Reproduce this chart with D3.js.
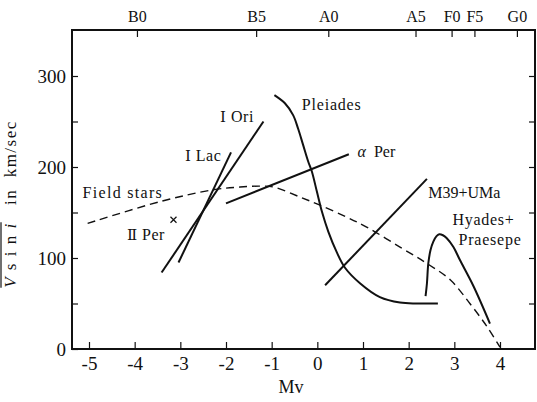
<!DOCTYPE html>
<html>
<head>
<meta charset="utf-8">
<script src="https://cdn.jsdelivr.net/npm/d3@7"></script>
<style>
  @font-face { font-family: "ChartSerif"; src: local("Liberation Serif"), local("LiberationSerif"); }
  @font-face { font-family: "ChartSerif"; font-style: italic; src: local("Liberation Serif Italic"), local("LiberationSerif-Italic"); }
  body { margin: 0; background: #fff; }
</style>
</head>
<body>
<svg id="chart" width="537" height="402" style="font-family:'Liberation Serif'">
  <text id="xlabel" x="291" y="393" text-anchor="middle" style="font-family:'Liberation Serif'; font-size:18px" fill="#111">Mv</text>
</svg>
<script>
// Mv ticks and spectral types on the top axis
const mvTicks = [-5, -4, -3, -2, -1, 0, 1, 2, 3, 4];
const vTicks = [0, 50, 100, 150, 200, 250, 300];
const vLabels = [0, 100, 200, 300];
const spType = ["B0", "B5", "A0", "A5", "F0", "F5", "G0"];
const spMv = [-3.95, -1.34, 0.24, 2.15, 2.94, 3.44, 4.37];

// field stars (dashed)
const fieldMv = [-5.03, -3.44, -2.28, -1.69, -1.25, -0.96, -0.38, 0.06, 0.64, 1.08, 1.81, 2.40, 2.91, 3.34, 3.71, 4.0];
const fieldV = [138, 162, 175, 178, 179, 178, 167, 158, 145, 134, 112, 94, 76, 50, 25, 2];

// Pleiades
const pleiadesMv = [-0.94, -0.71, -0.53, -0.42, -0.31, -0.20, -0.12, -0.01, 0.10, 0.24, 0.42, 0.61, 0.94, 1.37, 1.81, 2.18, 2.64];
const pleiadesV = [279, 270, 257, 242, 224, 206, 195, 173, 151, 129, 107, 89, 72, 57, 51, 50, 50];

// Hyades + Praesepe
const hyadesMv = [2.37, 2.40, 2.43, 2.48, 2.54, 2.61, 2.67, 2.75, 2.83, 2.98, 3.12, 3.42, 3.78];
const hyadesV = [58, 72, 94, 109, 118, 124, 126, 125, 122, 112, 98, 69, 28];

// straight segments
const oriMv = [-3.41, -1.18], oriV = [84, 250];
const lacMv = [-3.04, -1.89], lacV = [95, 216];
const aPerMv = [-2.0, 0.69], aPerV = [160, 214];
const m39Mv = [0.17, 2.40], m39V = [70, 187];

// II Per single point
const perIIMv = -3.15, perIIV = 142;

const fontSerif = "'Liberation Serif', ChartSerif, 'Times New Roman', serif";

const svg = d3.select("#chart");

const fLeft = 72, fRight = 535, fTop = 30, fBottom = 349;

const x = d3.scaleLinear().domain([-5, 4]).range([89, 500]);
const y = d3.scaleLinear().domain([0, 300]).range([349, 76]);

function zip(a, b) { return a.map((d, i) => [d, b[i]]); }

// axes (ticks point inward)
svg.append("g")
  .attr("transform", "translate(0," + fBottom + ")")
  .call(d3.axisBottom(x).tickValues(mvTicks).tickSize(-7).tickPadding(8)
    .tickFormat(d => d < 0 ? "-" + Math.abs(d) : d))
  .call(g => g.select(".domain").remove())
  .call(g => g.selectAll("text").attr("font-size", 19));

svg.append("g")
  .attr("transform", "translate(" + fLeft + ",0)")
  .call(d3.axisLeft(y).tickValues(vTicks).tickSize(-6).tickPadding(6)
    .tickFormat(d => vLabels.includes(d) ? d : ""))
  .call(g => g.select(".domain").remove())
  .call(g => g.selectAll("text").attr("font-size", 19));

svg.append("g")
  .attr("transform", "translate(" + fRight + ",0)")
  .call(d3.axisRight(y).tickValues(vTicks.slice(1)).tickSize(-6).tickFormat(""))
  .call(g => g.select(".domain").remove());

svg.append("g")
  .attr("transform", "translate(0," + fTop + ")")
  .call(d3.axisTop(x).tickValues(spMv).tickSize(-7).tickPadding(8)
    .tickFormat((d, i) => spType[i]))
  .call(g => g.select(".domain").remove())
  .call(g => g.selectAll("text").attr("font-size", 16));

// d3 axes put font-family="sans-serif" on their groups; drop it
svg.selectAll("g").attr("font-family", null);
svg.selectAll(".tick line").attr("stroke", "#111").attr("stroke-width", 1.2);

// frame
svg.append("path")
  .attr("d", `M${fLeft},${fTop}H${fRight}V${fBottom}H${fLeft}Z`)
  .attr("fill", "none").attr("stroke", "#111").attr("stroke-width", 2);

const line = d3.line().x(d => x(d[0])).y(d => y(d[1]));
const smooth = d3.line().x(d => x(d[0])).y(d => y(d[1])).curve(d3.curveCatmullRom.alpha(0.5));

svg.append("path").datum(zip(fieldMv, fieldV))
  .attr("d", smooth).attr("fill", "none").attr("stroke", "#111")
  .attr("stroke-width", 1.4).attr("stroke-dasharray", "8,5");

[[pleiadesMv, pleiadesV], [hyadesMv, hyadesV]].forEach(s => {
  svg.append("path").datum(zip(s[0], s[1]))
    .attr("d", smooth).attr("fill", "none").attr("stroke", "#111").attr("stroke-width", 2);
});

[[oriMv, oriV], [lacMv, lacV], [aPerMv, aPerV], [m39Mv, m39V]].forEach(s => {
  svg.append("path").datum(zip(s[0], s[1]))
    .attr("d", line).attr("fill", "none").attr("stroke", "#111").attr("stroke-width", 2);
});

// × marker
const px = x(perIIMv), py = y(perIIV);
svg.append("path")
  .attr("d", `M${px - 3},${py - 3}L${px + 3},${py + 3}M${px + 3},${py - 3}L${px - 3},${py + 3}`)
  .attr("stroke", "#111").attr("stroke-width", 1.2);

// labels (roman numeral part set in its own tspan)
const labels = [
  { n: "", t: "Field stars", mv: -5.14, v: 166, ls: 1.3 },
  { n: "Ⅱ", t: " Per", mv: -4.17, v: 120, ls: 0.5 },
  { n: "Ⅰ", t: " Ori", mv: -2.13, v: 249, ls: 0.5 },
  { n: "Ⅰ", t: " Lac", mv: -2.90, v: 207, ls: 0.5 },
  { n: "", t: "Pleiades", mv: -0.34, v: 263, ls: 0.8 },
  { n: "", t: "M39+UMa", mv: 2.43, v: 166, ls: 0 },
  { n: "", t: "Hyades+", mv: 2.96, v: 136, ls: 0.7 },
  { n: "", t: "Praesepe", mv: 3.09, v: 114, ls: 0.8 }
];
const lt = svg.append("g").selectAll("text").data(labels).join("text")
  .attr("x", d => x(d.mv)).attr("y", d => y(d.v))
  .attr("font-size", 16)
  .attr("letter-spacing", d => d.ls)
  .attr("xml:space", "preserve");
lt.append("tspan").attr("class", "roman").attr("font-size", 15).text(d => d.n);
lt.append("tspan").text(d => d.t);

const ap = svg.append("text").attr("x", x(0.88)).attr("y", y(211)).attr("font-size", 16);
ap.append("tspan").attr("font-style", "italic").text("α");
ap.append("tspan").text("\u00a0 Per");

// y label with overline on V sin i
const yl = svg.append("g").attr("transform", "translate(16,204) rotate(-90)");
const yt = yl.append("text").attr("text-anchor", "middle").attr("font-size", 17)
  .attr("letter-spacing", 1.5);
const part = yt.append("tspan");
part.append("tspan").attr("font-style", "italic").text("V");
part.append("tspan").text("\u00a0s i n\u00a0");
part.append("tspan").attr("font-style", "italic").text("i");
yt.append("tspan").text("\u00a0\u00a0 in\u00a0 km/sec");

svg.selectAll("text").attr("fill", "#111").style("font-family", fontSerif);
svg.selectAll("tspan.roman").style("font-family", "'DejaVu Serif', serif");

const bb = part.node().getBBox();
yl.append("line")
  .attr("x1", bb.x).attr("x2", bb.x + bb.width)
  .attr("y1", bb.y).attr("y2", bb.y)
  .attr("stroke", "#111").attr("stroke-width", 1.2);
</script>
</body>
</html>
